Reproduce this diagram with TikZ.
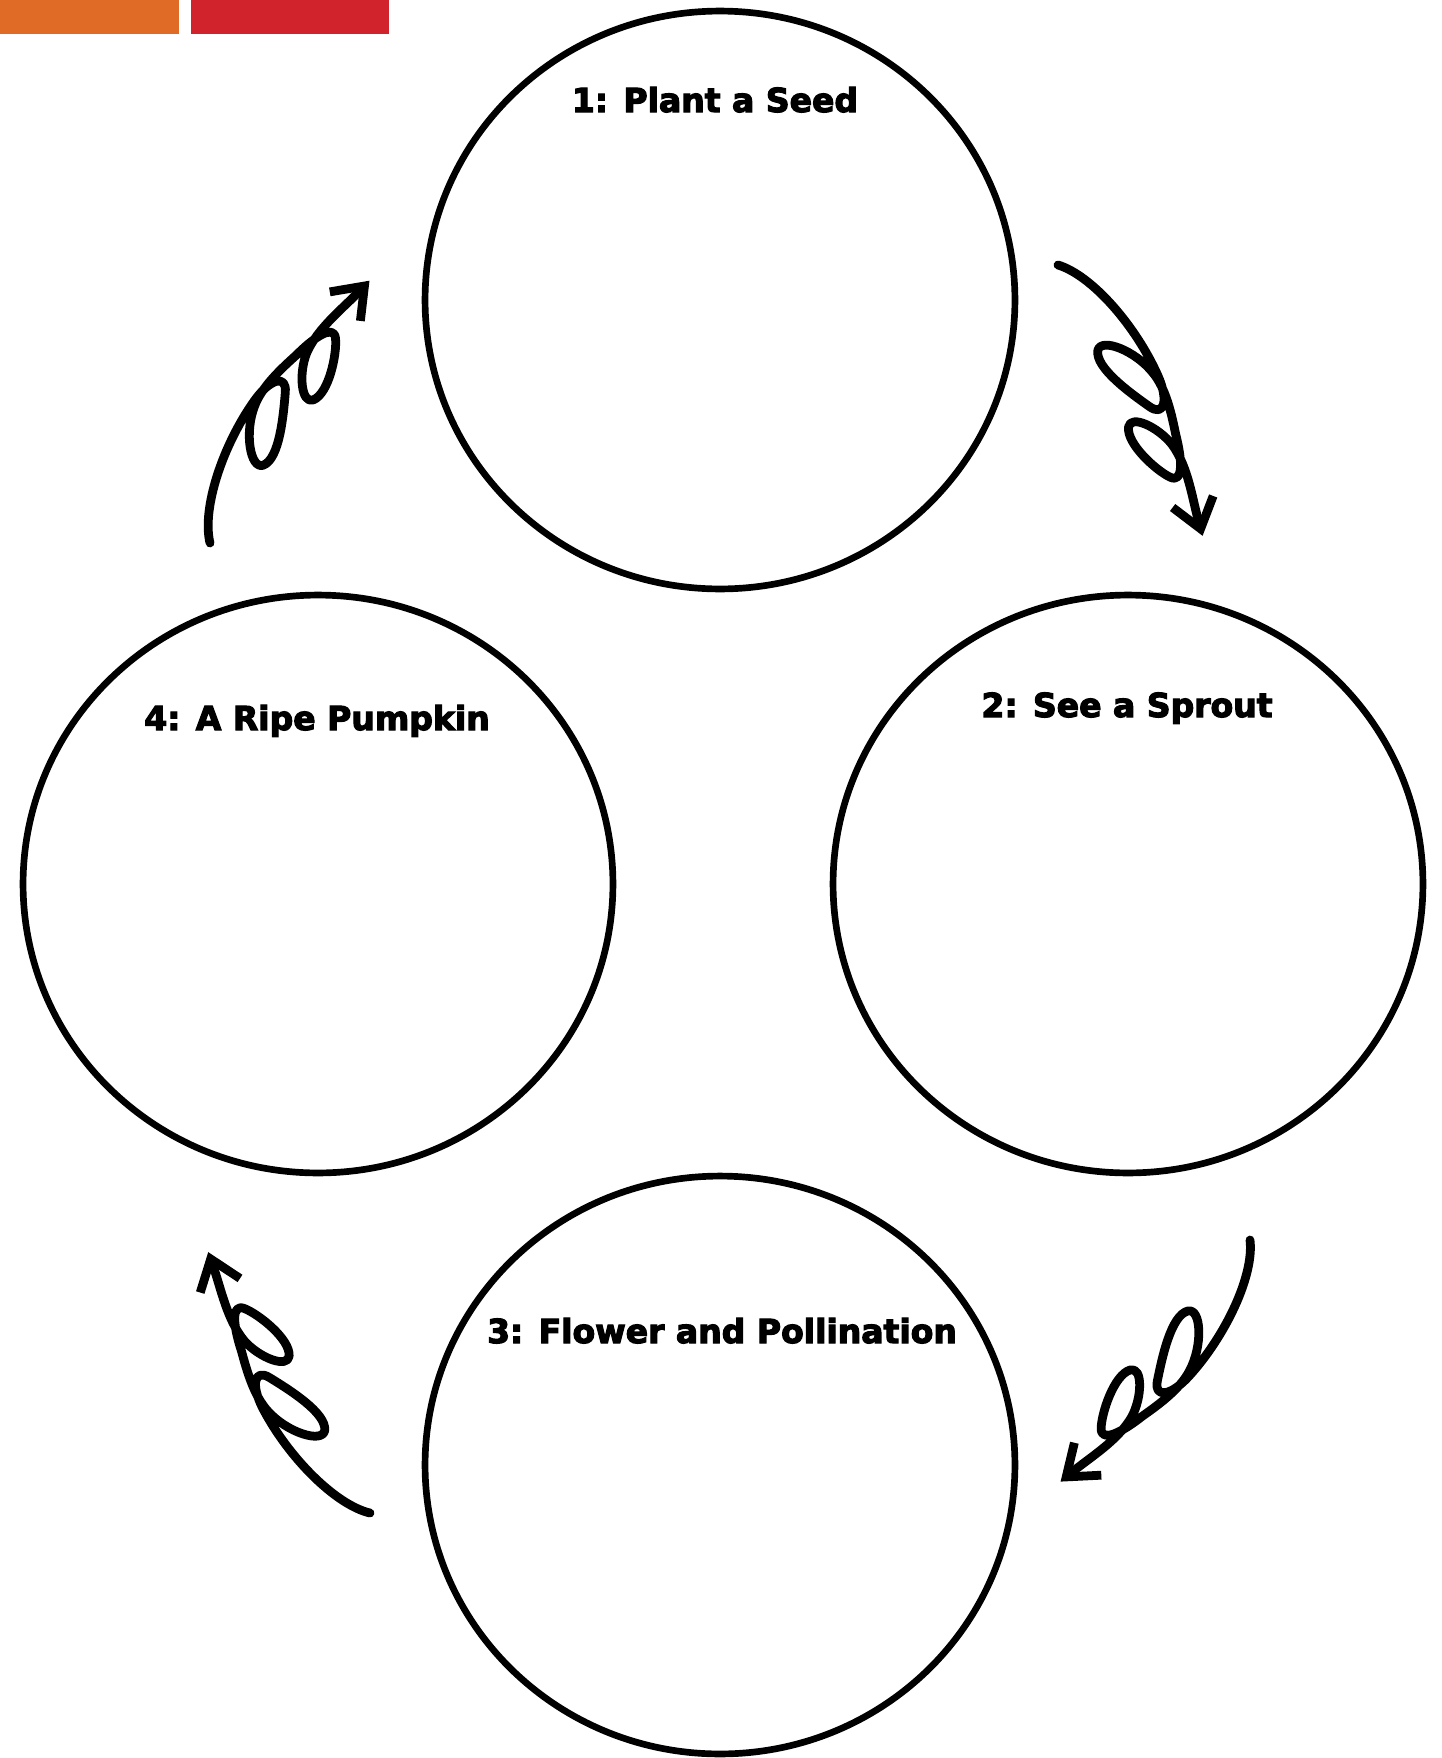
\documentclass[tikz,border=0pt]{standalone}
\usepackage{fontspec}
\setmainfont{DejaVu Sans}
\newfontfamily\stagefont{DejaVu Sans}[BoldFeatures={FakeBold=3.5}]
\usepackage{tikz}
\usetikzlibrary{arrows.meta, positioning, calc, shapes.geometric}
\usepackage{xcolor}
\definecolor{barorange}{RGB}{224,107,38}
\definecolor{barred}{RGB}{209,35,43}

\tikzset{
  stage/.style={draw, ellipse, line width=3.8pt, minimum width=11.8cm,
    minimum height=11.56cm, inner sep=0pt},
  stagelabel/.style={font=\stagefont\bfseries\fontsize{18.8}{22}\selectfont,
    anchor=base, inner sep=0pt},
  curlline/.style={line width=5pt, line cap=round, line join=round,
    -{Straight Barb[length=16pt,width=24pt]}},
  % hand drawn arrow with two loops, tail at origin, pointing along +x
  curl/.pic={
    \draw[curlline] (0,0) .. controls (25,25) and (90,40) .. (145,36)
      .. controls (172,34) and (184,22) .. (168,14)
      .. controls (148,4) and (108,-16) .. (94,-5)
      .. controls (84,4) and (112,28) .. (140,33)
      .. controls (160,37) and (185,30) .. (205,24)
      .. controls (230,18) and (252,8) .. (240,-1)
      .. controls (228,-10) and (190,-24) .. (176,-14)
      .. controls (166,-6) and (190,12) .. (212,16)
      .. controls (240,20) and (270,8) .. (307,0);
  }
}

\begin{document}
\begin{tikzpicture}[x=0.02cm, y=0.02cm]
  \path[use as bounding box] (0,0) rectangle (1441,-1758);

  % header bars
  \fill[barorange] (0,0) rectangle (179,-34);
  \fill[barred] (191,0) rectangle (389,-34);

  % the four stages
  \node[stage] (seed) at (720,-300) {};
  \node[stage] (sprout) at (1128,-884) {};
  \node[stage] (flower) at (720,-1465) {};
  \node[stage] (pumpkin) at (318,-884) {};

  \node[stagelabel] (seedlbl) at (715,-112) {1: Plant a Seed};
  \node[stagelabel] (sproutlbl) at (1127,-717) {2: See a Sprout};
  \node[stagelabel] (flowerlbl) at (722,-1343) {3: Flower and Pollination};
  \node[stagelabel] (pumpkinlbl) at (317,-730) {4: A Ripe Pumpkin};

  % curly arrows between the stages
  \coordinate (seedtail) at (1058,-265);
  \coordinate (sprouttail) at (1250,-1240);
  \coordinate (flowertail) at (370,-1513);
  \coordinate (pumpkintail) at (210,-543);
  \pic[rotate=-61.9] at (seedtail) {curl};
  \pic[rotate=-128.1] at (sprouttail) {curl};
  \pic[rotate=121.8] at (flowertail) {curl};
  \pic[rotate=58.7] at (pumpkintail) {curl};
\end{tikzpicture}
\end{document}
